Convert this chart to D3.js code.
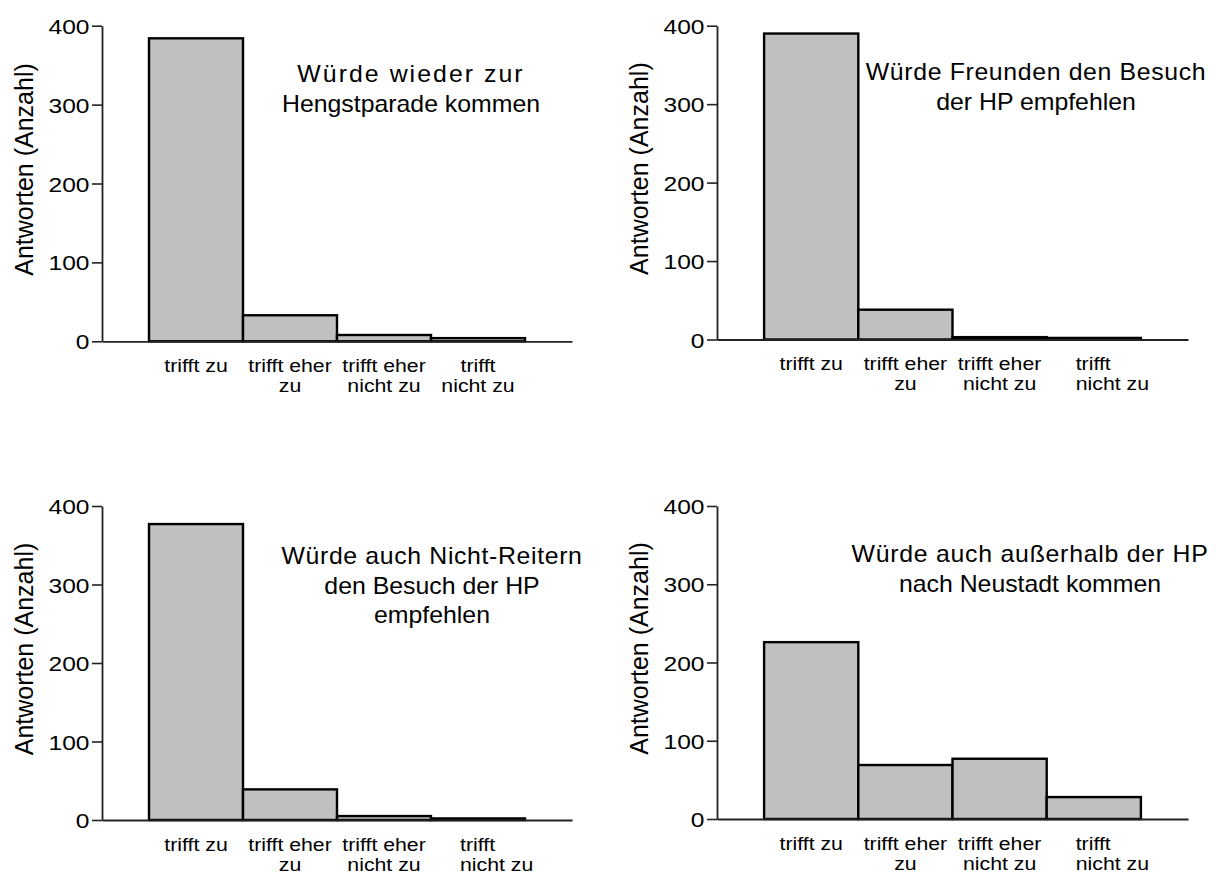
<!DOCTYPE html>
<html>
<head>
<meta charset="utf-8">
<script src="https://cdn.jsdelivr.net/npm/d3@7"></script>
<style>
  html, body { margin: 0; padding: 0; background: #fff; }
  svg { display: block; font-family: "Liberation Sans", Arial, sans-serif; }
</style>
</head>
<body>
<svg id="chart" width="1216" height="875"></svg>
<script>
// ---------------- data ----------------
const categories = ["trifft zu", "trifft eher zu", "trifft eher nicht zu", "trifft nicht zu"];
const categoryLines = [["trifft zu"], ["trifft eher", "zu"], ["trifft eher", "nicht zu"], ["trifft", "nicht zu"]];
const valuesWiederKommen = [384, 33, 8, 4];
const valuesFreundeEmpfehlen = [390, 38, 3, 2];
const valuesNichtReiterEmpfehlen = [377, 39, 5, 2];
const valuesAusserhalbHP = [226, 69, 77, 28];
const titleWiederKommen = ["Würde wieder zur", "Hengstparade kommen"];
const titleFreundeEmpfehlen = ["Würde Freunden den Besuch", "der HP empfehlen"];
const titleNichtReiterEmpfehlen = ["Würde auch Nicht-Reitern", "den Besuch der HP", "empfehlen"];
const titleAusserhalbHP = ["Würde auch außerhalb der HP", "nach Neustadt kommen"];
const yTicks = [0, 100, 200, 300, 400];
const yMax = 400;
const yLabel = "Antworten (Anzahl)";

// ---------------- layout (positions only) ----------------
const panels = [
  { values: valuesWiederKommen, title: titleWiederKommen,
    x0: 102, x1: 572, yBase: 341.3, yTop: 25.7, titleX: 411, titleY: 82, line1Spacing: 1.9, lastAlign: "middle" },
  { values: valuesFreundeEmpfehlen, title: titleFreundeEmpfehlen,
    x0: 717, x1: 1188, yBase: 339.5, yTop: 25.7, titleX: 1036, titleY: 80, line1Spacing: 0.6, lastAlign: "start" },
  { values: valuesNichtReiterEmpfehlen, title: titleNichtReiterEmpfehlen,
    x0: 102, x1: 572, yBase: 820, yTop: 506, titleX: 432, titleY: 564, line1Spacing: 0.6, lastAlign: "start" },
  { values: valuesAusserhalbHP, title: titleAusserhalbHP,
    x0: 717, x1: 1188, yBase: 819, yTop: 506, titleX: 1030, titleY: 562, line1Spacing: 0.7, lastAlign: "start" }
];

const svg = d3.select("#chart");
const FILL = "#c0c0c0";
const AXIS = "#222";

function stretchText(g, x, y, txt, size, sx, anchor) {
  return g.append("text")
    .attr("transform", `translate(${x},${y}) scale(${sx},1)`)
    .attr("text-anchor", anchor)
    .attr("font-size", size)
    .attr("fill", "#000")
    .text(txt);
}

panels.forEach(p => {
  const g = svg.append("g");
  const x = d3.scaleLinear().domain([0, categories.length + 1]).range([p.x0, p.x1]);
  const y = d3.scaleLinear().domain([0, yMax]).range([p.yBase, p.yTop]);

  // bars
  g.selectAll("rect.bar")
    .data(p.values)
    .join("rect")
    .attr("class", "bar")
    .attr("x", (d, i) => x(i + 0.5))
    .attr("width", (d, i) => x(i + 1.5) - x(i + 0.5))
    .attr("y", d => y(d))
    .attr("height", d => y(0) - y(d))
    .attr("fill", FILL)
    .attr("stroke", "#000")
    .attr("stroke-width", 2.4);

  // x axis (baseline only)
  const xAxis = g.append("g")
    .attr("transform", `translate(0,${y(0)})`)
    .call(d3.axisBottom(x).tickValues([]).tickSizeOuter(0));
  xAxis.select(".domain").attr("stroke", AXIS).attr("stroke-width", 1.8);

  // y axis
  const yAxis = g.append("g")
    .attr("transform", `translate(${p.x0},0)`)
    .call(d3.axisLeft(y).tickValues(yTicks).tickSize(10).tickPadding(3).tickSizeOuter(0));
  yAxis.select(".domain").attr("stroke", AXIS).attr("stroke-width", 1.8);
  yAxis.selectAll(".tick line").attr("stroke", AXIS).attr("stroke-width", 1.6);
  yAxis.selectAll(".tick text")
    .attr("x", 0)
    .attr("dy", "0.36em")
    .attr("transform", "translate(-12.5,0) scale(1.17,1)")
    .attr("font-size", 21)
    .attr("font-family", "Liberation Sans, Arial, sans-serif")
    .attr("fill", "#000");

  // y label
  const cy = (p.yBase + p.yTop) / 2 - 14;
  g.append("text")
    .attr("transform", `translate(${p.x0 - 69},${cy}) rotate(-90)`)
    .attr("text-anchor", "middle")
    .attr("font-size", 25)
    .attr("fill", "#000")
    .text(yLabel);

  // category labels
  categoryLines.forEach((lines, i) => {
    const isLast = i === categoryLines.length - 1;
    const align = isLast ? p.lastAlign : "middle";
    const cx = align === "middle" ? x(i + 1) : x(i + 0.5) + 29;
    lines.forEach((ln, j) => {
      stretchText(g, cx, y(0) + 30.5 + j * 20, ln, 18.5, 1.15, align);
    });
  });

  // panel title
  p.title.forEach((ln, j) => {
    stretchText(g, p.titleX, p.titleY + j * 29.5, ln, 23, 1.08, "middle")
      .attr("letter-spacing", j === 0 ? p.line1Spacing : 0);
  });
});
</script>
</body>
</html>
